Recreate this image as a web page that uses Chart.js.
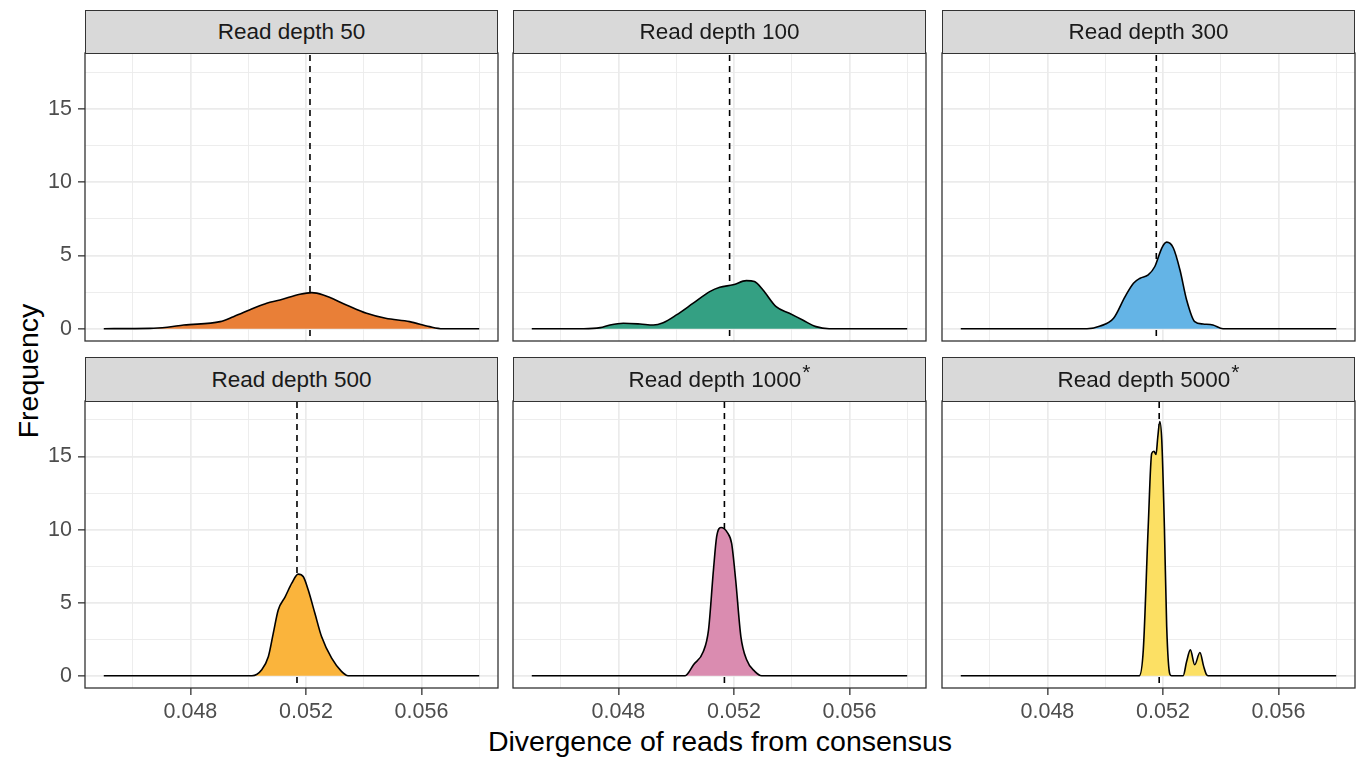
<!DOCTYPE html>
<html>
<head>
<meta charset="utf-8">
<script src="https://cdn.jsdelivr.net/npm/chart.js@4.4.1/dist/chart.umd.min.js"></script>
<style>
  body { margin: 0; background: #fff; width: 1359px; height: 759px; position: relative; overflow: hidden;
         font-family: "Liberation Sans", Arial, sans-serif; }
  canvas { position: absolute; }
  .strip { position: absolute; box-sizing: border-box; background: #d9d9d9; border: 1px solid #333;
           color: #1a1a1a; font-size: 22.5px; text-align: center; z-index: 2; }
  .strip sup { font-size: 21px; line-height: 0; vertical-align: baseline; position: relative; top: -8px; margin-left: 1px; }
  .title { position: absolute; color: #000; font-size: 28.5px; text-align: center; white-space: nowrap; }
</style>
</head>
<body>
<div class="title" id="xtitle" style="left:85px;width:1270px;top:724px;line-height:34px;">Divergence of reads from consensus</div>
<div class="title" id="ytitle" style="left:-172px;top:354px;width:400px;line-height:34px;transform:rotate(-90deg);">Frequency</div>
<script>
// facet labels and colours
const depths = ['50', '100', '300', '500', '1000', '5000'];
const starred = [false, false, false, false, true, true];
const fillColours = ['rgb(233,127,55)', 'rgb(52,160,131)', 'rgb(100,180,230)',
                     'rgb(250,180,60)', 'rgb(218,140,176)', 'rgb(252,224,100)'];
const meanDivergence = [0.05214, 0.05185, 0.05177, 0.05169, 0.05167, 0.05187];

// axis breaks
const xBreaks = [0.048, 0.052, 0.056];
const xLabels = ['0.048', '0.052', '0.056'];
const xMinor = [0.046, 0.050, 0.054, 0.058];
const yBreaks = [0, 5, 10, 15];
const yLabels = ['0', '5', '10', '15'];
const yMinor = [2.5, 7.5, 12.5, 17.5];

// density curves
const d50X = [0.045, 0.0466, 0.0472, 0.04777, 0.04903, 0.04949, 0.05018, 0.05064, 0.0511, 0.05179, 0.0522, 0.0526, 0.0534, 0.0541, 0.05476, 0.05559, 0.05628, 0.05673, 0.058];
const d50Y = [0, 0.02, 0.1, 0.25, 0.48, 0.82, 1.39, 1.74, 1.96, 2.35, 2.46, 2.30, 1.62, 1.05, 0.71, 0.48, 0.14, 0, 0];
const d100X = [0.045, 0.0468, 0.04737, 0.04771, 0.04817, 0.04875, 0.04921, 0.04955, 0.05001, 0.05059, 0.05116, 0.05151, 0.05197, 0.05243, 0.05271, 0.053, 0.05346, 0.05392, 0.05438, 0.05484, 0.0553, 0.058];
const d100Y = [0, 0, 0.07, 0.25, 0.37, 0.32, 0.25, 0.41, 0.94, 1.74, 2.53, 2.83, 2.99, 3.28, 3.21, 2.65, 1.5, 1.05, 0.59, 0.14, 0, 0];
const d300X = [0.045, 0.04937, 0.04983, 0.05029, 0.05069, 0.05098, 0.05121, 0.05149, 0.05172, 0.05196, 0.05213, 0.05236, 0.05259, 0.05282, 0.0531, 0.05339, 0.05373, 0.05408, 0.058];
const d300Y = [0, 0, 0.18, 0.71, 2.19, 3.1, 3.44, 3.67, 4.24, 5.5, 5.9, 5.5, 4.0, 1.96, 0.48, 0.32, 0.25, 0, 0];
const d500X = [0.045, 0.05013, 0.05047, 0.0507, 0.05087, 0.05104, 0.05128, 0.05151, 0.05173, 0.05191, 0.05208, 0.05231, 0.05254, 0.05289, 0.05323, 0.05346, 0.058];
const d500Y = [0, 0, 0.41, 1.32, 2.91, 4.5, 5.4, 6.33, 6.95, 6.77, 5.86, 4.27, 2.68, 1.2, 0.3, 0, 0];
const d1000X = [0.045, 0.05031, 0.0506, 0.05094, 0.05112, 0.05129, 0.0514, 0.05155, 0.05178, 0.05192, 0.05206, 0.05224, 0.05244, 0.05272, 0.05296, 0.058];
const d1000Y = [0, 0, 0.75, 1.66, 3.14, 7.23, 9.5, 10.14, 9.77, 9.05, 6.55, 2.68, 1.09, 0.3, 0, 0];
const d5000X = [0.045, 0.05118, 0.05132, 0.05149, 0.05161, 0.05169, 0.05176, 0.05182, 0.05189, 0.05196, 0.05205, 0.05213, 0.05224, 0.0523, 0.0527, 0.05282, 0.05295, 0.0531, 0.05328, 0.05341, 0.05351, 0.05356, 0.058];
const d5000Y = [0, 0, 1.77, 10.2, 15.2, 15.36, 15.14, 16.3, 17.4, 16.1, 10.2, 3.36, 0.1, 0, 0, 0.97, 1.77, 0.75, 1.59, 0.64, 0.07, 0, 0];

const curvesX = [d50X, d100X, d300X, d500X, d1000X, d5000X];
const curvesY = [d50Y, d100Y, d300Y, d500Y, d1000Y, d5000Y];

// layout of the facet grid
const colLeft = [85, 513, 942];
const plotW = 413;
const rowTop = [53, 401];
const plotH = [288, 287];
const stripTop = [10, 357];

Chart.defaults.font.family = '"Liberation Sans", Arial, sans-serif';

const isOn = (list, v) => list.some(b => Math.abs(b - v) < 1e-9);

const panelBorder = {
    id: 'panelBorder',
    afterDraw(chart) {
        const a = chart.chartArea;
        const c = chart.ctx;
        c.save();
        c.strokeStyle = '#333333';
        c.lineWidth = 1.3;
        c.strokeRect(a.left, a.top, a.right - a.left, a.bottom - a.top);
        c.restore();
    }
};

depths.forEach((depth, i) => {
    const row = Math.floor(i / 3);
    const col = i % 3;
    const showX = row === 1;
    const showY = col === 0;

    // strip
    const strip = document.createElement('div');
    strip.className = 'strip';
    strip.style.left = colLeft[col] + 'px';
    strip.style.top = stripTop[row] + 'px';
    strip.style.width = plotW + 'px';
    strip.style.height = (rowTop[row] - stripTop[row] + 1) + 'px';
    strip.style.lineHeight = (rowTop[row] - stripTop[row] - 1) + 'px';
    strip.innerHTML = 'Read depth ' + depth + (starred[i] ? '<sup>*</sup>' : '');
    document.body.appendChild(strip);

    // canvas (extra padding absorbs the tick label overhang so the plot area stays fixed)
    const padL = showY ? 0 : 10, padR = 10, padT = 30, padB = 30;
    const yW = showY ? 85 : 0;
    const xH = showX ? 45 : 0;
    const w = padL + yW + plotW + padR;
    const h = padT + plotH[row] + xH + padB;
    const canvas = document.createElement('canvas');
    canvas.width = w;
    canvas.height = h;
    canvas.style.width = w + 'px';
    canvas.style.height = h + 'px';
    canvas.style.left = (colLeft[col] - yW - padL) + 'px';
    canvas.style.top = (rowTop[row] - padT) + 'px';
    document.body.appendChild(canvas);

    const xs = curvesX[i], ys = curvesY[i];
    new Chart(canvas.getContext('2d'), {
        type: 'line',
        data: {
            datasets: [
                {
                    data: xs.map((x, k) => ({ x: x, y: ys[k] })),
                    borderColor: '#000000',
                    borderWidth: 1.6,
                    backgroundColor: fillColours[i],
                    fill: 'origin',
                    pointRadius: 0,
                    cubicInterpolationMode: 'monotone'
                },
                {
                    data: [{ x: meanDivergence[i], y: -2 }, { x: meanDivergence[i], y: 20 }],
                    borderColor: '#000000',
                    borderWidth: 1.6,
                    borderDash: [6, 5],
                    fill: false,
                    pointRadius: 0
                }
            ]
        },
        options: {
            responsive: false,
            animation: false,
            events: [],
            layout: { padding: { left: padL, right: padR, top: padT, bottom: padB } },
            plugins: { legend: { display: false }, tooltip: { enabled: false } },
            scales: {
                x: {
                    type: 'linear',
                    min: 0.04435,
                    max: 0.05865,
                    afterBuildTicks: s => {
                        s.ticks = xMinor.concat(xBreaks).sort((a, b) => a - b).map(v => ({ value: v }));
                    },
                    afterFit: s => { s.height = xH; },
                    border: { display: false },
                    grid: {
                        color: '#EBEBEB',
                        lineWidth: ctx => isOn(xBreaks, ctx.tick.value) ? 1.7 : 0.9,
                        drawTicks: showX,
                        tickLength: 7,
                        tickWidth: 1.3,
                        tickColor: ctx => isOn(xBreaks, ctx.tick.value) ? '#333333' : 'rgba(0,0,0,0)'
                    },
                    ticks: {
                        display: showX,
                        autoSkip: false,
                        maxRotation: 0,
                        padding: 4,
                        color: '#4D4D4D',
                        font: { size: 21.5 },
                        callback: v => {
                            const k = xBreaks.findIndex(b => Math.abs(b - v) < 1e-9);
                            return k >= 0 ? xLabels[k] : '';
                        }
                    }
                },
                y: {
                    type: 'linear',
                    min: -0.84,
                    max: 18.8,
                    afterBuildTicks: s => {
                        s.ticks = yMinor.concat(yBreaks).sort((a, b) => a - b).map(v => ({ value: v }));
                    },
                    afterFit: s => { s.width = yW; },
                    border: { display: false },
                    grid: {
                        color: '#EBEBEB',
                        lineWidth: ctx => isOn(yBreaks, ctx.tick.value) ? 1.7 : 0.9,
                        drawTicks: showY,
                        tickLength: 7,
                        tickWidth: 1.3,
                        tickColor: ctx => isOn(yBreaks, ctx.tick.value) ? '#333333' : 'rgba(0,0,0,0)'
                    },
                    ticks: {
                        display: showY,
                        autoSkip: false,
                        padding: 6,
                        color: '#4D4D4D',
                        font: { size: 21.5 },
                        callback: v => {
                            const k = yBreaks.findIndex(b => Math.abs(b - v) < 1e-9);
                            return k >= 0 ? yLabels[k] : '';
                        }
                    }
                }
            }
        },
        plugins: [panelBorder]
    });
});
</script>
</body>
</html>
